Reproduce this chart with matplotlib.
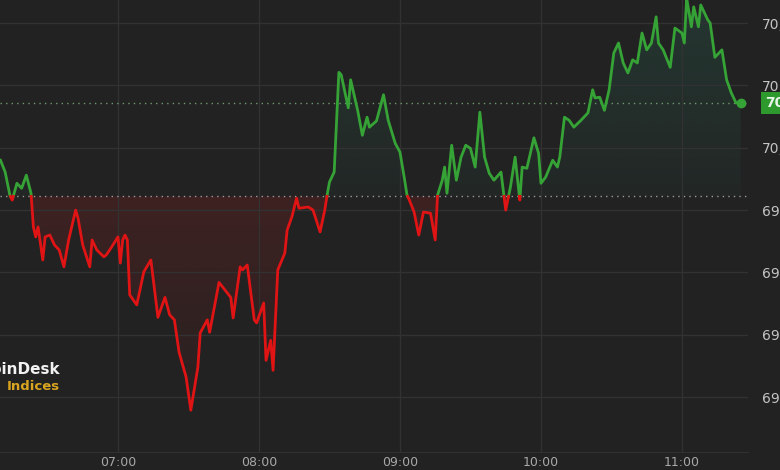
import matplotlib.pyplot as plt
import numpy as np
from matplotlib.patches import PathPatch
from matplotlib.path import Path
from matplotlib.ticker import FuncFormatter

# minutes relative to 07:00, BTC index price (USD)
mins = [-50, -48, -46, -45, -43, -41, -39, -37, -36, -35, -34, -32, -31, -29, -27,
        -25, -23, -21, -18, -17, -15, -12, -11, -9, -6, -5, -3, 0, 1, 2, 3, 4, 5,
        8, 11, 14, 17, 20, 22, 24, 26, 29, 31, 34, 35, 38, 39, 41, 43, 48, 49, 52,
        53, 55, 58, 59, 62, 63, 65, 66, 68, 71, 72, 74, 76, 77, 81, 83, 86, 88, 89,
        90, 92, 94, 95, 98, 99, 102, 104, 106, 107, 110, 113, 115, 118, 120, 122,
        123, 124, 126, 128, 130, 133, 135, 136, 138, 139, 140, 142, 144, 146, 148,
        150, 152, 154, 156, 158, 160, 163, 165, 167, 169, 171, 172, 174, 177, 179,
        180, 182, 185, 187, 188, 190, 192, 194, 197, 200, 202, 203, 205, 207, 209,
        211, 213, 215, 217, 219, 221, 223, 225, 227, 229, 230, 232, 235, 237, 240,
        241, 242, 244, 245, 247, 248, 251, 252, 254, 257, 259, 261, 263, 265]
price = [69980, 69961, 69924, 69916, 69943, 69935, 69956, 69927, 69873, 69857, 69873,
         69820, 69857, 69860, 69844, 69836, 69809, 69852, 69900, 69887, 69844, 69809,
         69852, 69836, 69825, 69828, 69839, 69857, 69815, 69852, 69860, 69852, 69764,
         69748, 69801, 69820, 69728, 69760, 69732, 69724, 69672, 69632, 69579, 69648,
         69703, 69724, 69704, 69744, 69784, 69760, 69727, 69809, 69804, 69812, 69724,
         69719, 69751, 69659, 69691, 69643, 69804, 69831, 69868, 69889, 69919, 69903,
         69905, 69900, 69865, 69900, 69924, 69945, 69961, 70121, 70117, 70064, 70109,
         70060, 70020, 70049, 70033, 70043, 70085, 70044, 70007, 69993, 69948, 69924,
         69916, 69897, 69860, 69897, 69895, 69852, 69924, 69948, 69969, 69927, 70004,
         69948, 69985, 70004, 69999, 69969, 70057, 69985, 69959, 69948, 69961, 69900,
         69937, 69985, 69916, 69969, 69967, 70016, 69991, 69943, 69953, 69980, 69969,
         69985, 70049, 70044, 70033, 70044, 70056, 70093, 70080, 70081, 70060, 70093,
         70152, 70168, 70136, 70120, 70141, 70136, 70184, 70157, 70168, 70210, 70168,
         70157, 70129, 70192, 70184, 70168, 70240, 70194, 70226, 70194, 70229, 70205,
         70200, 70145, 70157, 70109, 70088, 70072, 70072]
ref_price = 69922
price_ticks = [69600, 69700, 69800, 69900, 70000, 70100, 70200]
hour_ticks = [0, 60, 120, 180, 240]
hour_labels = ["07:00", "08:00", "09:00", "10:00", "11:00"]

BG = "#222222"
GRID = "#323232"
GREEN = "#36a336"
RED = "#e01414"

t = np.array(mins, float)
p = np.array(price, float)

# add the points where the line crosses the reference level
tt, pp = [t[0]], [p[0]]
for i in range(1, len(t)):
    a, b = p[i - 1] - ref_price, p[i] - ref_price
    if a * b < 0:
        f = a / (a - b)
        tt.append(t[i - 1] + f * (t[i] - t[i - 1]))
        pp.append(ref_price)
    tt.append(t[i])
    pp.append(p[i])
tt, pp = np.array(tt), np.array(pp)

fig = plt.figure(figsize=(7.8, 4.7), dpi=100, facecolor=BG)
ax = fig.add_axes([0, 1 - 452 / 470, 748 / 780, 452 / 470], facecolor=BG)

xlim = (-50.2, 268.1)
ylim = (69512, 70237)
ax.set_xlim(*xlim)
ax.set_ylim(*ylim)


def gradient_fill(mask, color, a_top, a_bot, y0, y1):
    poly = ax.fill_between(tt, pp, ref_price, where=mask, interpolate=True,
                           facecolor="none", edgecolor="none")
    paths = poly.get_paths()
    if not paths:
        return
    patch = PathPatch(Path.make_compound_path(*paths), transform=ax.transData,
                      facecolor="none", edgecolor="none")
    ax.add_patch(patch)
    rgba = np.zeros((256, 1, 4))
    rgba[..., :3] = plt.matplotlib.colors.to_rgb(color)
    rgba[:, 0, 3] = np.linspace(a_top, a_bot, 256)
    im = ax.imshow(rgba, extent=[xlim[0], xlim[1], y0, y1], origin="upper",
                   aspect="auto", zorder=1)
    im.set_clip_path(patch)


gradient_fill(pp >= ref_price, "#2f8a70", 0.2, 0.05, ref_price, ylim[1])
gradient_fill(pp <= ref_price, "#c02020", 0.18, 0.03, ylim[0] + 40, ref_price)

green = np.where(pp >= ref_price, pp, np.nan)
red = np.where(pp <= ref_price, pp, np.nan)
ax.plot(tt, green, color=GREEN, lw=2, zorder=4, solid_joinstyle="round")
ax.plot(tt, red, color=RED, lw=2, zorder=4, solid_joinstyle="round")
ax.plot(t[-1], p[-1], "o", color=GREEN, ms=6, zorder=5)

ax.axhline(ref_price, color="#9a9a9a", lw=1, ls=(0, (1, 3)), zorder=3)
ax.axhline(p[-1], color="#6f9a6f", lw=1, ls=(0, (1, 3)), zorder=3)

ax.set_yticks(price_ticks)
ax.yaxis.tick_right()
ax.yaxis.set_major_formatter(FuncFormatter(lambda v, _: f"{v:,.0f}"))
ax.set_xticks(hour_ticks)
ax.set_xticklabels(hour_labels)
ax.tick_params(axis="y", length=0, pad=10, labelsize=10, labelcolor="#c4c4c4")
ax.tick_params(axis="x", length=0, pad=3, labelsize=9, labelcolor="#a8a8a8")
ax.grid(True, color=GRID, lw=0.9, zorder=0)
for s in ["top", "left", "right"]:
    ax.spines[s].set_visible(False)
ax.spines["bottom"].set_color(GRID)

ax.text(1.023, (p[-1] - ylim[0]) / (ylim[1] - ylim[0]), f"{p[-1]:,.2f}",
        transform=ax.transAxes, ha="left", va="center", fontsize=10,
        fontweight="bold", color="#e8f5e8", clip_on=False,
        bbox=dict(boxstyle="square,pad=0.3", fc="#2e9a2e", ec="none"))

fig.text(60 / 780, 1 - 370 / 470, "CoinDesk", ha="right", va="center",
         fontsize=11, fontweight="bold", color="#f2f2f2")
fig.text(60 / 780, 1 - 386 / 470, "Indices", ha="right", va="center",
         fontsize=9.5, fontweight="bold", color="#d9a520")

fig.savefig("out.png", dpi=100, facecolor=BG)
